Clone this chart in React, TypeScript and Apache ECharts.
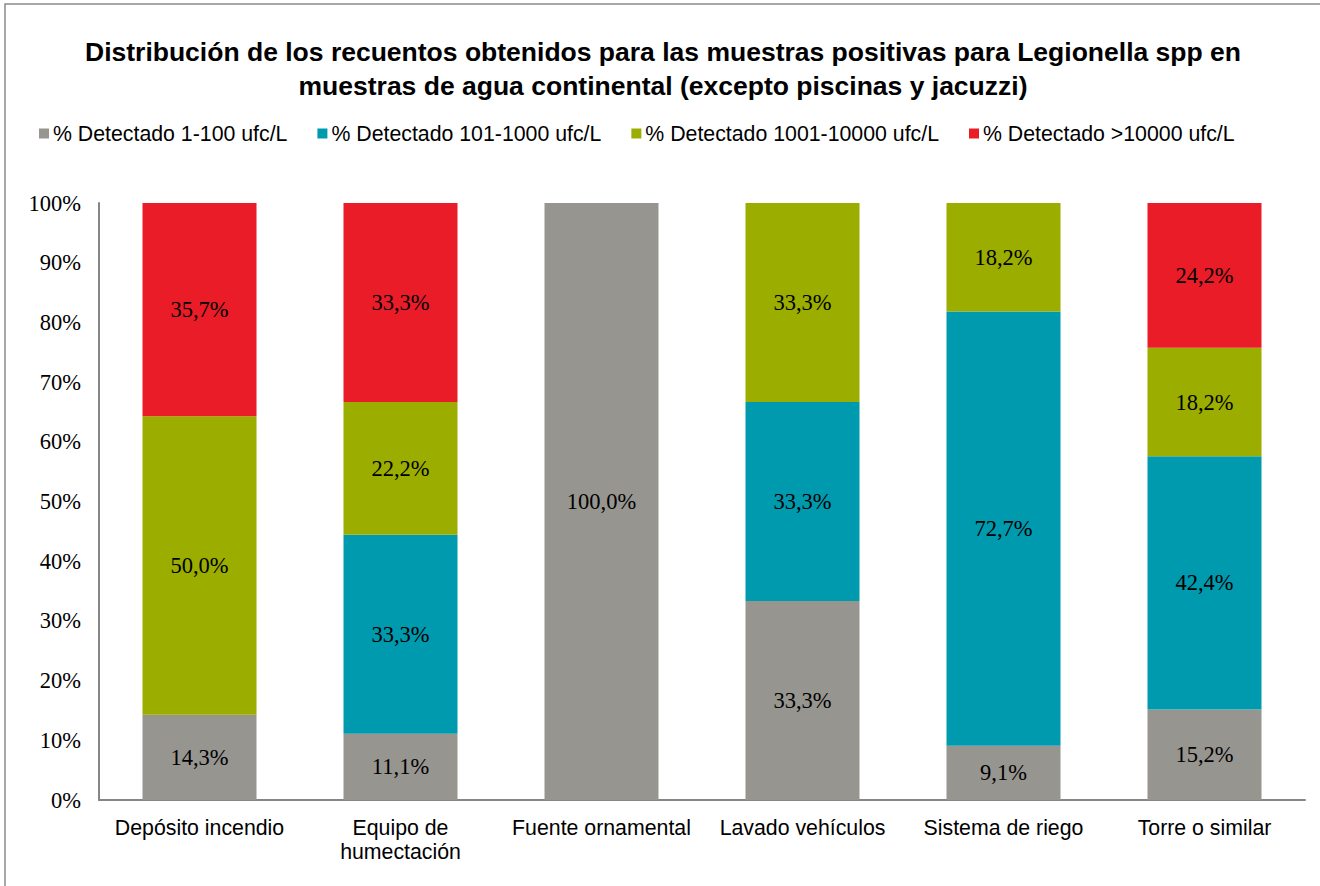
import React, { useEffect, useRef } from "react";
import * as echarts from "echarts";

const categories = [
  "Depósito incendio",
  "Equipo de\nhumectación",
  "Fuente ornamental",
  "Lavado vehículos",
  "Sistema de riego",
  "Torre o similar",
];

const seriesNames = [
  "% Detectado 1-100 ufc/L",
  "% Detectado 101-1000 ufc/L",
  "% Detectado 1001-10000 ufc/L",
  "% Detectado >10000 ufc/L",
];

const det1_100 = [14.29, 11.11, 100.0, 33.33, 9.09, 15.15];
const det101_1000 = [0, 33.33, 0, 33.33, 72.73, 42.42];
const det1001_10000 = [50.0, 22.22, 0, 33.34, 18.18, 18.19];
const detOver10000 = [35.71, 33.34, 0, 0, 0, 24.24];

const yTicks = [0, 10, 20, 30, 40, 50, 60, 70, 80, 90, 100];

const colors = ["#979590", "#009AAF", "#9BAE00", "#EA1C28"];

export default function App() {
  const ref = useRef<HTMLDivElement>(null);
  useEffect(() => {
    if (!ref.current) return;
    const chart = echarts.init(ref.current, null, { renderer: "svg" });
    const allData = [det1_100, det101_1000, det1001_10000, detOver10000];
    const serif = "'Liberation Serif', 'Times New Roman', serif";
    const sans = "'Liberation Sans', Arial, sans-serif";
    chart.setOption({
      animation: false,
      backgroundColor: "#ffffff",
      title: {
        text: "Distribución de los recuentos obtenidos para las muestras positivas para Legionella spp en\nmuestras de agua continental (excepto piscinas y jacuzzi)",
        left: 658,
        top: 30,
        textAlign: "center",
        textStyle: {
          fontFamily: sans,
          fontSize: 26.5,
          fontWeight: "bold",
          color: "#000000",
          lineHeight: 34,
        },
      },
      legend: {
        left: 34,
        top: 118,
        itemWidth: 10,
        itemHeight: 10,
        itemGap: 30,
        icon: "rect",
        textStyle: { fontFamily: sans, fontSize: 21.3, color: "#000000", padding: [0, 0, 0, -1] },
        data: seriesNames,
      },
      grid: { left: 99, right: 15, top: 203, bottom: 86, containLabel: false },
      xAxis: {
        type: "category",
        data: categories,
        axisLine: { show: true, lineStyle: { color: "#868686", width: 2 } },
        axisTick: { show: false },
        axisLabel: {
          fontFamily: sans,
          fontSize: 21.3,
          color: "#000000",
          margin: 16,
          lineHeight: 24,
          interval: 0,
        },
      },
      yAxis: {
        type: "value",
        min: 0,
        max: 100,
        interval: 10,
        splitLine: { show: false },
        axisLine: { show: true, lineStyle: { color: "#868686", width: 2 } },
        axisTick: { show: false },
        axisLabel: {
          fontFamily: serif,
          fontSize: 22.5,
          color: "#000000",
          margin: 18,
          formatter: (v: number) => (yTicks.includes(v) ? v + "%" : ""),
        },
      },
      series: seriesNames.map((name, i) => ({
        name,
        type: "bar",
        stack: "total",
        barWidth: 114,
        itemStyle: { color: colors[i] },
        label: {
          show: true,
          position: "inside",
          fontFamily: serif,
          fontSize: 22.5,
          color: "#000000",
          formatter: (p: any) =>
            p.value ? p.value.toFixed(1).replace(".", ",") + "%" : "",
        },
        data: allData[i].map((v) => (v === 0 ? null : v)),
      })),
      graphic: [
        {
          type: "rect",
          shape: { x: 5, y: 4, width: 1330, height: 900 },
          style: { fill: "none", stroke: "#8a8a8a", lineWidth: 1.5 },
          silent: true,
        },
      ],
    });
    return () => chart.dispose();
  }, []);
  return (
    <div
      ref={ref}
      style={{ position: "fixed", left: 0, top: 0, width: 1320, height: 886 }}
    />
  );
}
